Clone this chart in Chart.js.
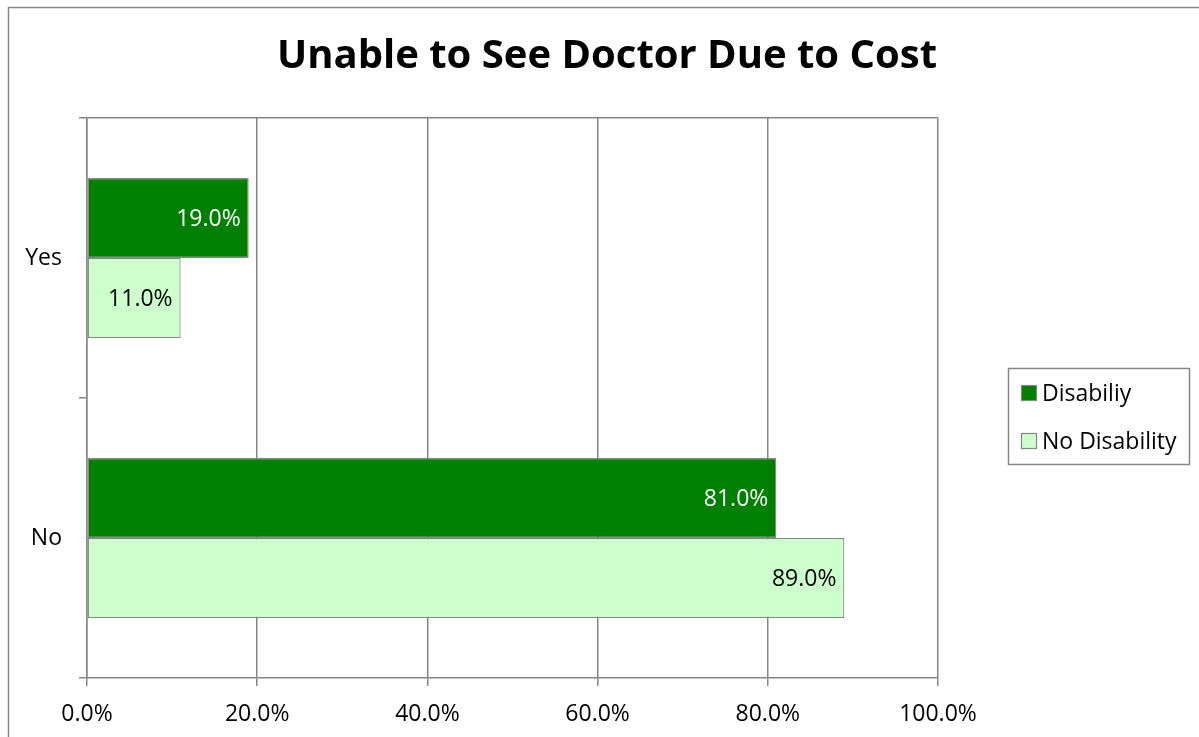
<!DOCTYPE html>
<html>
<head>
<meta charset="utf-8">
<script src="https://cdn.jsdelivr.net/npm/chart.js@4/dist/chart.umd.min.js"></script>
<style>
  html, body { margin: 0; padding: 0; background: #ffffff; }
  #wrap { position: relative; width: 1199px; height: 737px; }
  canvas { display: block; }
</style>
</head>
<body>
<div id="wrap"><canvas id="c" width="1199" height="737"></canvas></div>
<script>
const categories = ["Yes", "No"];
const disabilityValues = [19.0, 81.0];
const noDisabilityValues = [11.0, 89.0];
const seriesNames = ["Disabiliy", "No Disability"];
const xTickValues = [0, 20, 40, 60, 80, 100];
const chartTitle = "Unable to See Doctor Due to Cost";

const FONT = "'Open Sans', 'DejaVu Sans', sans-serif";
const GRAY = "#868686";
const COLORS = ["#008000", "#CCFFCC"];
const LABEL_COLORS = ["#ffffff", "#000000"];

const decor = {
  id: 'decor',
  beforeDraw(chart) {
    const ctx = chart.ctx;
    ctx.save();
    ctx.fillStyle = '#ffffff';
    ctx.fillRect(0, 0, chart.width, chart.height);
    ctx.strokeStyle = GRAY;
    ctx.lineWidth = 1.5;
    ctx.beginPath();
    ctx.moveTo(8.5, chart.height);
    ctx.lineTo(8.5, 7.5);
    ctx.lineTo(chart.width, 7.5);
    ctx.stroke();
    ctx.restore();
  },
  afterDraw(chart) {
    const ctx = chart.ctx;
    ctx.save();
    // title
    ctx.fillStyle = '#000000';
    ctx.font = "bold 40px " + FONT;
    ctx.textAlign = 'center';
    ctx.textBaseline = 'middle';
    ctx.fillText(chartTitle, 607, 57);
    // data labels
    ctx.font = "23px " + FONT;
    ctx.textAlign = 'right';
    chart.data.datasets.forEach((ds, di) => {
      const meta = chart.getDatasetMeta(di);
      meta.data.forEach((bar, i) => {
        ctx.fillStyle = LABEL_COLORS[di];
        ctx.fillText(ds.data[i].toFixed(1) + '%', bar.x - 8, bar.y + 1);
      });
    });
    // legend
    ctx.strokeStyle = GRAY;
    ctx.lineWidth = 1.5;
    ctx.fillStyle = '#ffffff';
    ctx.fillRect(1008.5, 368.5, 181, 96);
    ctx.strokeRect(1008.5, 368.5, 181, 96);
    ctx.font = "23px " + FONT;
    ctx.textAlign = 'left';
    chart.data.datasets.forEach((ds, di) => {
      const cy = 393 + di * 48;
      ctx.fillStyle = COLORS[di];
      ctx.fillRect(1021.5, cy - 7.5, 15, 15);
      ctx.lineWidth = 1.2;
      ctx.strokeRect(1021.5, cy - 7.5, 15, 15);
      ctx.fillStyle = '#000000';
      ctx.fillText(ds.label, 1042, cy + 1);
    });
    ctx.restore();
  }
};

new Chart(document.getElementById('c'), {
  type: 'bar',
  data: {
    labels: categories,
    datasets: [
      { label: seriesNames[0], data: disabilityValues, backgroundColor: COLORS[0], borderColor: GRAY, borderWidth: 1.2, borderSkipped: false },
      { label: seriesNames[1], data: noDisabilityValues, backgroundColor: COLORS[1], borderColor: GRAY, borderWidth: 1.2, borderSkipped: false }
    ]
  },
  options: {
    indexAxis: 'y',
    responsive: false,
    animation: false,
    devicePixelRatio: 1,
    categoryPercentage: 160 / 280,
    barPercentage: 1.0,
    layout: { padding: { top: 118, right: 261, bottom: 0, left: 0 } },
    plugins: {
      legend: { display: false },
      title: { display: false },
      tooltip: { enabled: false }
    },
    scales: {
      x: {
        min: 0, max: 100,
        afterBuildTicks(scale) { scale.ticks = xTickValues.map(v => ({ value: v })); },
        afterFit(scale) { scale.height = 59; },
        ticks: {
          color: '#000000',
          font: { family: FONT, size: 23 },
          padding: 15,
          callback: v => Number(v).toFixed(1) + '%'
        },
        grid: { color: GRAY, lineWidth: 1.5, tickLength: 8, tickColor: GRAY },
        border: { color: GRAY, width: 1.5 }
      },
      y: {
        afterFit(scale) { scale.width = 87; },
        ticks: {
          color: '#000000',
          font: { family: FONT, size: 23 },
          padding: 17
        },
        grid: {
          offset: true,
          lineWidth: 1.5,
          tickLength: 8,
          color: ctx => (ctx.index === 0 ? GRAY : 'rgba(0,0,0,0)'),
          tickColor: GRAY
        },
        border: { color: GRAY, width: 1.5 }
      }
    }
  },
  plugins: [decor]
});
</script>
</body>
</html>
